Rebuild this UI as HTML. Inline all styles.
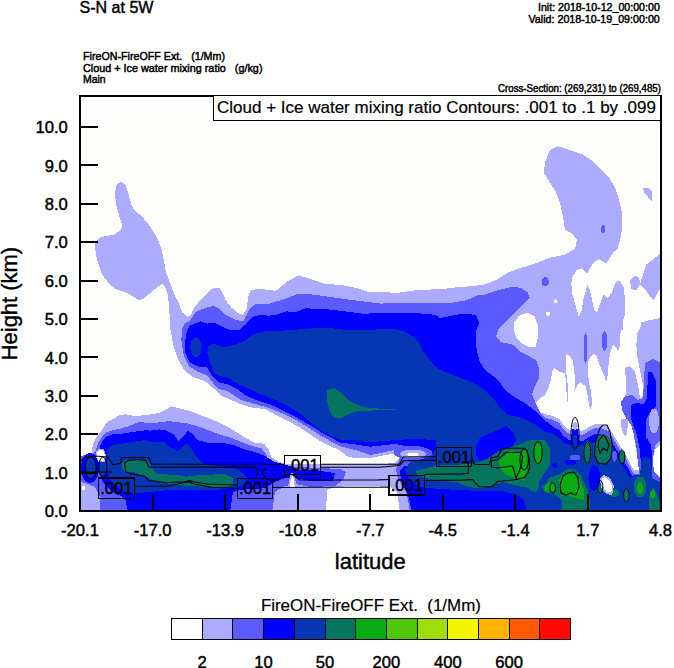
<!DOCTYPE html>
<html><head><meta charset="utf-8"><style>
html,body{margin:0;padding:0;background:#fff;width:674px;height:668px;overflow:hidden}
svg{display:block}
</style></head><body>
<svg width="674" height="668" viewBox="0 0 674 668">
<style>
polygon,rect{shape-rendering:crispEdges} ellipse:not([fill="none"]){shape-rendering:crispEdges}
text{font-family:"Liberation Sans",sans-serif;fill:#000}
.t16{font-size:16.6px;stroke:#000;stroke-width:0.45px} .t17{font-size:17px;stroke:#000;stroke-width:0.2px} .t22{font-size:22px;stroke:#000;stroke-width:0.4px} .t10{font-size:11.8px;stroke:#000;stroke-width:0.5px} .t9{font-size:10.4px;stroke:#000;stroke-width:0.45px}
</style>
<rect x="80" y="96" width="581" height="415" fill="#fefefc"/><polygon points="80,456.3 86.8,456.3 92,453.6 92.7,444.5 96,438 101,431.5 105,425 107.5,421.8 114.2,418.5 119.3,415.1 126,414.3 134.4,415.9 142.8,415.4 151.1,414.3 159.5,412.8 166.6,409.2 171.4,406.4 178.5,408.1 188,410.4 197.5,414 207,417.6 218.8,422.3 228.3,427 237.8,433 245,437.7 254.4,442.5 264,443.7 268.7,449.6 271,456.7 278.2,461.5 285.3,463.8 300,464.5 330,464 360,464.5 380,464 395,463 401,456 394.4,453.4 385.5,455.1 371.2,457.8 359,458.5 353.4,457.8 347.9,456.7 340,450.6 329,445.4 320.1,441 311.2,435.1 302.3,429.1 293.4,423.9 283,418.7 274.1,414.3 265.2,409.1 251.9,407.6 240,403.9 230.7,399.7 220.6,395.5 213.9,388.8 204.9,381 193.7,377.6 184.7,370.8 178,359.6 173.5,346 170.5,330 169.4,312.5 168,295 165,287 162.2,283.8 153.9,289.8 143.4,298.7 138.9,300.2 126.9,292.8 116.4,289.2 108.9,283.8 101.5,273.3 97,259.8 94.6,244.9 95.5,241.9 100,237.4 107.4,235.9 114.9,234.4 120.9,229.9 122.4,225.4 119.4,216.4 116.4,206 114.9,194 116.4,185 120.9,181.4 125.4,185 128.4,194 131.4,204.4 134.4,210.4 141.9,216.4 149.4,225.4 156.8,237.4 161.3,247.8 163.7,259.8 165.8,271.8 170.3,283.8 174.8,295.7 178,301.2 182.5,312.5 187,317 191,315 194,308 198,303 204.8,296 210,290 215.2,287.7 219.7,288.3 222.7,292.8 225.5,300 231.9,308 238,313 243,315 246.5,309 248.5,295.7 251.2,289.8 258.6,289.2 261.1,289 276,290.9 287.1,281.6 298.2,275.3 309.3,278.6 324.2,283.5 342.7,285.3 357.6,288.3 368.7,292 385.3,292.4 398.4,292.7 416.9,290.1 442.9,289 457.7,287.2 472.6,286.1 484,284.7 495.9,280.2 507.9,272.7 519.9,268.2 534.9,263.7 549.8,257.7 564.8,254.7 575.3,248.7 576.8,239.8 572.3,233.8 564.8,229.3 563.3,218.8 560.3,203.8 555.8,191.9 548.3,179.9 543.8,172.4 545.3,161.9 549.8,149.9 557.3,146.3 564.8,148.4 573.8,151.4 582.8,154.4 591.7,160.4 600.7,169.4 609.7,178.4 615.7,188.9 620.2,203.8 622.3,216 622.3,226.8 620.5,237.6 617.8,248.3 614.3,252 661,252 661,511 80,511" fill="#acacfe" /><polygon points="643,188 648,187.5 651.6,191 652,201.6 648,197 644,192" fill="#acacfe" /><polygon points="614.3,251 606.2,263.5 599.5,259.4 594.1,262.1 589.4,268.9 587.3,273.6 582,268.2 576.6,270.2 572.5,277 571.2,283.7 572.5,294.5 575.2,303.9 578.6,316 581.3,312 583.3,299.9 587.3,285 590,290.4 594.1,309.3 596.8,312.7 600.1,303.9 603.5,294.5 607.6,297.8 611.6,293.1 615.6,282.3 619.4,280.6 623.5,287 624.8,297 624.8,322 622,333 620,345 623,350 627,348 626,335 636,324 650,320 660,318 660,251" fill="#fefefc" /><polygon points="530,407.4 535,404 540,398 545,395.3 548.1,389 550.8,379.6 552.9,369.1 554.4,368 558.6,371.2 562.3,372.7 564.9,373.3 565.9,381.6 566.5,392.1 567.5,402 568.5,392 567,378 565.9,371.2 565.9,355.5 568,354 570.1,356.5 572.7,360.7 574.3,371.2 575.4,386.9 573.5,393 572.7,394.2 576.4,386.9 580.6,381.6 583.7,384.8 585.3,384.8 586.9,392.1 589,403.6 590,411 592.1,403.6 591.1,392.1 589,382.7 587.9,371.2 587.9,361.8 590,357.6 593.7,353.9 596.3,355.5 598.4,361.8 601.5,370.1 605,376.4 606,383.1 607.4,377.7 608.7,362.9 610.1,353.5 612.8,345.4 615.5,346.7 618.2,350.8 620.9,344 620.5,330 624,330 626.9,348.1 625.1,366.2 626.3,391.2 623.6,405 627.9,419.2 631.8,423.1 633.8,434.8 635.8,448.5 637.7,458.3 639.7,470 633.8,470 631.8,466.2 627.9,458.3 624,452.5 618.1,442.7 612.3,432.9 608.3,427 600.5,424.1 594.6,424.1 588.8,427 582.9,430.9 577,430 569.2,430 563.3,425 559.4,419.2 553.5,416.2 545.7,414.3 537.8,411.3" fill="#fefefc" /><polygon points="326,512 327,490 335,487 350,486 370,486 390,487 397,492 400,512" fill="#fefefc" /><polygon points="514.1,322.7 518.6,315.9 527.6,312.6 534.3,315.9 537.7,324.9 537.7,338.4 535.4,347.4 529.8,347.4 523.1,344 516.4,338.4 513.7,329.4" fill="#fefefc" /><ellipse cx="555.7" cy="301.3" rx="2" ry="2" fill="#fefefc"/><ellipse cx="547.8" cy="313.7" rx="2.2" ry="2.2" fill="#fefefc"/><polygon points="623.7,316 623,328.8 620.5,332.6 619.9,345.2 618.6,351.4 613.6,345.2 611.1,351.4 608.6,370.3 606.7,384.2 612,395 621,400 625,396 625,368 630,366 635,372 638,385 640,398 642.5,396 642.5,382.9 640,370.3 637.5,357.7 636.3,345.2 637.5,332.6 641.3,325.7 641,316" fill="#fefefc" /><polygon points="660,444 655,450 652.7,460 654,472 660,478" fill="#fefefc" /><polygon points="660,253.6 653.6,259 646.4,264.4 642.8,275.2 640.1,284.2 645.5,289.6 650,296.8 653.6,300.4 657.2,293.2 660,289.6" fill="#acacfe" /><polygon points="630.2,280 634,276 639,277 640.1,284 636,290.5 631,289" fill="#acacfe" /><polygon points="641.3,325.7 646.3,335.1 648.8,347 653.9,346.4 658.9,343.3 660,343 660,400 642.5,400 642.5,382.9 640,370.3 637.5,357.7 636.3,345.2 637.5,332.6" fill="#acacfe" /><polygon points="80,456 86,455 92,455 96,450 98.5,442 105,432.8 112.9,430.2 121,428.5 129.3,426 139.4,421.8 150,423.5 159.5,422.3 169,421.1 178.5,422.3 188,423.5 199.9,427 209.3,430.6 218.8,434.2 230.7,437.7 242.6,442.5 252.1,446 261.6,448.4 266.3,454.3 268.7,461.5 283,465.5 300,467 320,468 340,469 346,472 343,480 335,486 310,487 296,484 285,486 275,492 272,512 100,512 100,497 95,487 85,483 80,482" fill="#5a5aff" /><polygon points="182.5,328.2 185,323 189.2,321.4 195.8,312 204.9,308 213.9,305.7 218.4,308 225.1,314.7 234.1,319.2 243.1,321.4 249.8,308 256.6,303.5 268.5,303.9 287.1,298.3 298.2,293.5 313.1,294.6 331.6,297.2 344.9,299.1 362.9,301.3 380.8,303.6 398.8,302.9 416.8,302.9 434.7,302.5 453.5,302.5 467,300.2 478,295.1 484.9,294.6 495.9,290.7 511.9,286.7 520.8,287.9 527.6,292.4 530,298 523.1,304.7 514.1,313.7 505.1,322.7 498.4,329.4 496.1,336.1 500.6,341.8 514.1,345.1 520.8,351.9 529.8,356.4 536.6,360.8 538.8,367.6 538.8,378.8 534.3,387.8 532.1,394.5 535.4,402.4 540,412 545.7,418 553.5,420 559.4,423 563.3,429 569.2,434 577,434 582.9,434.9 588.8,431 594.6,428 600.5,428 608.3,431 612.3,436.9 618.1,446.7 624,456.5 627.9,462.3 631.8,470.2 633.8,474 638.8,474 638.8,469 637.5,458.9 636.3,446.3 633.7,433.7 631.2,425 626,418 622,410 621,402 625,396 632,395 638,400 643,398 644,380 645,362.8 652.6,359 657.6,361.5 660,362 660,440 655,446 652.7,460 654,472 660,478 660,512 410,512 406.8,493.4 398,479 396,470 399.7,458 394,450 385,452 371,455 353.5,449.5 340,446.2 330.5,441 321.6,436.5 312.7,430.6 303.8,424.7 294.9,419.5 284.5,414.3 275.6,410.6 265.2,406.9 251.9,403.2 240,399.5 227.4,391.1 218.4,388.8 213.9,384.3 207.2,375.3 198.2,372 189.2,366.4 183.6,355.1 181.3,339.4" fill="#5a5aff" /><ellipse cx="545.3" cy="281.7" rx="3.5" ry="4.5" fill="#5a5aff"/><ellipse cx="603.1" cy="229.3" rx="2" ry="4" fill="#5a5aff"/><ellipse cx="585.5" cy="348" rx="2" ry="15" fill="#5a5aff"/><ellipse cx="604.5" cy="341" rx="3" ry="10" fill="#5a5aff"/><polygon points="189.2,325.9 200.4,321.4 207.2,323.7 213.9,322.6 220.6,325.9 227.4,329.3 238.6,330.4 245.3,324.8 252.1,316.9 261.1,314.7 268.5,315.7 276.8,314.7 287.1,311.3 294.7,312.5 305.6,308.3 313.5,308.7 326.9,309.2 344.9,311.4 362.9,313.7 378.6,313.2 394.3,312.6 412.3,313.2 425.8,313.7 435.5,315 440,318.2 451.2,315.9 462.5,313.7 475.9,314.8 479.3,322.7 475.9,331.6 475.9,345.1 479.3,360.8 484.9,369.8 493.9,376.6 500.6,383.3 505.1,390 514.1,396.8 525.3,403.5 534.3,410.2 543.3,419 553.5,427 559.4,430 563.3,436 569.2,440 577,440 582.9,441 588.8,437 594.6,434 600.5,434 608.3,437 612.3,443 618.1,452 624,462 627.9,468 631.8,476 640,477 641,465 640,450 638,440 636,432 633,425 631,418 631,405 636,403 644,404 647,398 648,372 652,372 655.5,380 656,396 656,406 650,412 646,420 646,437 651,445 652,455 652,478 660,482 660,512 412,512 408,495 401,480 400,470 405,466 415,465 425,463 430,458 420,452 405,446 395,444 385,445 370,446.7 355.8,444.5 340,442.5 332,438 323.1,433.6 314.2,427.6 305.3,422.4 296.4,417.3 287.5,412.8 277.1,407.6 266.7,403.2 254.8,399.5 244.5,395 238.6,390 227.4,384.3 218.4,382.1 211.6,375.3 207.2,367.5 198.2,366.4 189.2,361.9 184.7,350.6 185.8,334.9" fill="#0000ff" /><ellipse cx="654" cy="421" rx="5" ry="12.5" fill="#acacfe"/><polygon points="99.1,450.3 100.8,443.6 105.8,436.9 112.6,434.4 122.6,433.6 132.7,431.9 146.1,430.2 150,430.6 159.5,429.4 166.6,430.6 173.7,434.2 178.5,441.3 183.2,436.5 188,430.6 192.7,434.2 197.5,440.1 207,442.5 221.2,442.5 233.1,444.9 245,449.6 255,452 265,456 275,462 290,466 300,470 320,471 335,473 333,481 310,481 296,478 285,478 275,482 265,488 240,490 233,492 230,512 128,512 125,498 112,492 103,482 98,470 96,458" fill="#0000ff" /><ellipse cx="90" cy="468" rx="9" ry="15" fill="#0000ff"/><polygon points="208.3,346.1 213.9,343.9 222.9,347.3 234.1,345 243.1,341.6 254.3,333.8 265.5,331.5 285.8,330.4 300,329.4 313.5,328.3 326.9,327.6 344.9,329.9 362.9,330.5 378.6,329.4 394.3,329 403.3,331.2 412.3,336.1 419,342.9 423.5,351.9 428,358.6 434.7,365.3 440,369.8 451.2,374.3 462.5,378.8 473.7,383.3 484.9,390 493.9,399 500.6,408 507.4,414.7 518.6,417 529.8,421.5 538.8,427.1 545,432 553,434 560,438 565,444 577,446 588,444 600,441 608,444 614,452 620,462 625,470 630,478 634,475 640,475 641,465 642,458 646,457 651,459 652,478 660,482 661,512 527,512 524,500 515,494 500,491 480,491 460,490 440,489 420,487 410,480 405,470 410,462 420,458 430,455 436,450 436,440 415,439 395,440 385,441 370,442.3 353.5,440.1 340,439.5 332,436.5 324.6,432.1 315.7,426.9 308.2,420.2 300.8,414.3 291.9,408.4 283,403.2 274.1,399.5 262.3,395 250,389 238.6,384.3 227.4,377.6 220.6,376.5 213.9,373.1 210.5,364.1 207.2,352.9" fill="#0537b4" /><ellipse cx="195.9" cy="347.3" rx="5.6" ry="10" fill="#0537b4"/><polygon points="107.5,448.7 112.6,445 120,444 131.6,442 145,440 152.8,442 164.4,442 170.1,447.8 177.9,451.6 183.6,445.9 187.5,443.9 193.3,451.6 197.1,457.4 202.9,463.2 215,466 230,467 240,470 247,478 243,486 230,489 210,490 190,490 170,490 150,492 130,494 118,488 110,480 106,465" fill="#0537b4" /><ellipse cx="90.7" cy="468" rx="5" ry="11" fill="#0537b4"/><ellipse cx="102.9" cy="467" rx="3.8" ry="10" fill="#0537b4"/><polygon points="506.3,425.9 498,430 488,434 480.2,437.7 476,446 475.5,454.3 480,462 485,466.2 495,460 505,452 512,447 515.8,440.1 513,432" fill="#0000ff" /><polygon points="327,390 333.7,388.2 340.4,392.3 347.2,399 353.9,403.1 360.6,405.8 367.4,407.6 385.3,409.1 397,409.6 397,410.3 383.1,410.2 367.4,410.7 356.1,411.4 347.2,414.7 340.4,418.1 333.7,417.4 329.2,410.2 326.5,399" fill="#057560" /><polygon points="121.8,463.8 125.1,460.4 134.4,459.6 142.8,459.6 147.8,461.2 151.1,466.3 156.9,473.5 168,474.6 176.9,474.6 185.8,476.8 194.7,475.7 203.6,474.6 212.5,474.6 225,474 233,478 233,486 217,487.9 203.6,486.8 185.8,485.7 172.5,484.6 156.9,481.3 145.8,476.8 134.4,472.1 127.7,472.1 123.5,470.5 121.8,467.1" fill="#057560" /><polygon points="415.8,470.9 436.5,465.7 457.3,464.7 474,463.6 486.4,459.5 498.9,451.2 511.3,447 520,444 530,440 545,440 550,448 549.5,465 545,472 535,488.5 519.6,486.5 503,482.3 490.6,486.5 478.1,488.5 467.7,486.5 457.3,482.3 436.5,480.2 426.2,478.2 417.9,476.1" fill="#057560" /><polygon points="541.7,486.7 545.7,484 549.7,477.4 559,474.7 567,469.3 575,469.3 580.4,474.7 584.4,482.7 588.4,492 589.8,500 589.8,512 561.7,512 561.7,500 555,494.7 544.4,492" fill="#057560" /><polygon points="515,460 529.7,460 529,475 526,486.7 518,486 515,480" fill="#057560" /><polygon points="525.7,478 530,474.7 536,478 539,486 537,492 531,491 527,486" fill="#057560" /><ellipse cx="532.6" cy="481.5" rx="6.5" ry="7.5" fill="#057560"/><ellipse cx="587.4" cy="452" rx="4.2" ry="11.6" fill="#057560"/><ellipse cx="603.2" cy="449" rx="9.5" ry="14.8" fill="#057560"/><ellipse cx="622.2" cy="457.3" rx="3.2" ry="6.3" fill="#057560"/><ellipse cx="640.1" cy="487" rx="6.3" ry="10.5" fill="#057560"/><polygon points="649,512 649,497 652.7,487 657,494 660,503 660,512" fill="#057560" /><ellipse cx="614.8" cy="493.2" rx="4.2" ry="4.2" fill="#057560"/><ellipse cx="626.4" cy="495.3" rx="3.2" ry="6.3" fill="#057560"/><ellipse cx="600.1" cy="486.9" rx="3.1" ry="6.3" fill="#057560"/><polygon points="498.9,462 503,455 510,451.2 520,452 528,458 527,470 524,480.2 515,478 505,474 500,468" fill="#0aaa12" /><ellipse cx="537.9" cy="452.6" rx="4.2" ry="11" fill="#0aaa12"/><ellipse cx="524.2" cy="459.5" rx="4.2" ry="10.5" fill="#0aaa12"/><polygon points="559,480 563,474 570,473.4 577,475 581,482 584.4,492 584,500 575,498 568,495 563,493 559,488" fill="#0aaa12" /><polygon points="544.4,487 548,482.7 555,483 556,490 550,492 545,491" fill="#0aaa12" /><ellipse cx="555" cy="465.3" rx="2.6" ry="2.7" fill="#0000ff"/><ellipse cx="594.4" cy="478" rx="6" ry="12.7" fill="#0000ff"/><rect x="516.3" y="502.7" width="6.7" height="8.3" fill="#0000ff"/><ellipse cx="570.4" cy="462.5" rx="6" ry="2.8" fill="#0000ff"/><ellipse cx="640" cy="488" rx="3" ry="6" fill="#0aaa12"/><ellipse cx="652.7" cy="494.3" rx="2.5" ry="4" fill="#0aaa12"/><ellipse cx="413" cy="453" rx="19" ry="7" fill="#5a5aff"/><ellipse cx="413" cy="454" rx="13" ry="4.5" fill="#acacfe"/><ellipse cx="413" cy="454.5" rx="6" ry="1.8" fill="#fefefc"/><polygon points="95.5,452 98.5,449.2 104,449.5 106,456 104.5,462 98,461.5 95.5,456" fill="#acacfe" /><polygon points="96.5,452.5 99,450.2 103.5,450.5 105,456 103.5,461 98.5,460.5 96.5,456" fill="#fefefc" /><rect x="81.5" y="486" width="3.5" height="4" fill="#fefefc"/><ellipse cx="575" cy="437" rx="3.6" ry="11.5" fill="#0000ff"/><ellipse cx="575" cy="441" rx="2.5" ry="6" fill="#0537b4"/><ellipse cx="575" cy="426" rx="2.6" ry="4" fill="#acacfe"/><ellipse cx="575" cy="457.5" rx="5" ry="3" fill="#5a5aff"/><ellipse cx="614.5" cy="456" rx="2.5" ry="5.5" fill="#5a5aff"/><polygon points="620.5,419 628,419 627.5,428.3 626.2,436.5 623.4,433.8 620.7,425.5" fill="#acacfe" /><polygon points="287.5,489 290,476 292,472 294.5,476 297,489" fill="#acacfe" /><polygon points="289.5,488 291,478 292.2,475 293.5,478 295,488" fill="#fefefc" /><polygon points="600,478 604,475 610,478 614,486 612,495 606,494 601,487" fill="#acacfe" /><polygon points="601.5,479 604.5,477 609,480 612.5,486.5 611,492.5 606.5,491.5 602.5,486" fill="#fefefc" /><polyline points="112,465 121,463 121,457.5 149,457.5 151.5,464 284.3,464.3" fill="none" stroke="#000" stroke-width="1.1" stroke-linejoin="round"/><polyline points="320.7,464.3 399.6,464.3 403,457 436.4,456.8" fill="none" stroke="#000" stroke-width="1.1" stroke-linejoin="round"/><polyline points="471.7,456.6 472.7,460.8 474.8,464.5 489.3,464.5 491.4,457.7 497.6,456.6 501.8,449.3 505.9,448.3 524.6,448.3 526.7,450.4 528.8,456.6 529.8,467 527.8,473.2 524.6,477.4 516.3,479.5 508,480.5 497.6,481.5 494.5,484.7 491.4,486.7 478.9,486.7 474.8,482.6 472.7,479.5 462.3,480.1 424.5,480.5" fill="none" stroke="#000" stroke-width="1.1" stroke-linejoin="round"/><polyline points="389,487.3 315,487.3 272.5,487.5" fill="none" stroke="#000" stroke-width="1.1" stroke-linejoin="round"/><polyline points="237.6,488.3 211.3,487.3 193.5,484 189,481.7 166.8,486.2 134.4,486.2" fill="none" stroke="#000" stroke-width="1.1" stroke-linejoin="round"/><polyline points="125.6,471.7 124.5,462.8 127.8,460.6 137.8,459.5 145.6,460.6 149,467.3 153.4,467.3 255,467 258,472 256,478.4" fill="none" stroke="#000" stroke-width="1.1" stroke-linejoin="round"/><polyline points="125.6,471.7 131.2,473.9 144.5,476.2 149,480.6 166.8,482.8 184.6,481.7 189,480.6 193.5,481.7 206.8,484 237.6,485" fill="none" stroke="#000" stroke-width="1.1" stroke-linejoin="round"/><polyline points="266,468 262,472 266,479 272.5,481 280,478 288,474.3" fill="none" stroke="#000" stroke-width="1.1" stroke-linejoin="round"/><polyline points="292,474.3 296,477 300,480 378.8,479.9 389,479.5" fill="none" stroke="#000" stroke-width="1.1" stroke-linejoin="round"/><polyline points="320.7,467.3 380,467.3 399.6,465.5 404,460.6 436.4,460.4" fill="none" stroke="#000" stroke-width="1.1" stroke-linejoin="round"/><polyline points="471.7,460.4 468.5,462 468.5,473.2 462.3,473.9 431.2,474.3 424.5,474.3" fill="none" stroke="#000" stroke-width="1.1" stroke-linejoin="round"/><polyline points="491.4,460.8 497.6,459.7 503.9,454.5 505.9,452.5 520.5,452.5 522.6,456.6 521.5,464.9 518.4,473.2 516,478 514,470 512.2,466 503.9,467 497.6,468 491.4,467 491.4,460.8" fill="none" stroke="#000" stroke-width="1.1" stroke-linejoin="round"/><ellipse cx="90.7" cy="468" rx="5.5" ry="11" fill="none" stroke="#000" stroke-width="1"/><ellipse cx="102.9" cy="467" rx="4" ry="10" fill="none" stroke="#000" stroke-width="1"/><polyline points="80,472 112,472" fill="none" stroke="#000" stroke-width="1.1" stroke-linejoin="round"/><polyline points="80,462 84,458 95,456 108,457 113,465" fill="none" stroke="#000" stroke-width="1.1" stroke-linejoin="round"/><ellipse cx="575" cy="433.4" rx="4" ry="16" fill="none" stroke="#000" stroke-width="1"/><ellipse cx="587.3" cy="452.5" rx="3.4" ry="10.8" fill="none" stroke="#000" stroke-width="1"/><ellipse cx="622" cy="457" rx="3" ry="7" fill="none" stroke="#000" stroke-width="1"/><ellipse cx="538" cy="452.6" rx="4.2" ry="11" fill="none" stroke="#000" stroke-width="1"/><ellipse cx="524.2" cy="459.5" rx="4.2" ry="10.5" fill="none" stroke="#000" stroke-width="1"/><ellipse cx="552.6" cy="488" rx="2.8" ry="5.3" fill="none" stroke="#000" stroke-width="1"/><ellipse cx="600.1" cy="486.9" rx="2.8" ry="6.3" fill="none" stroke="#000" stroke-width="1"/><ellipse cx="626.4" cy="495.3" rx="2.8" ry="6.3" fill="none" stroke="#000" stroke-width="1"/><polyline points="596,440 600,428 603,425 607,425 610,432 612.3,445 611,458 606,464.2 598,463 594.6,455 595,447 596,440" fill="none" stroke="#000" stroke-width="1.1" stroke-linejoin="round"/><polyline points="598,447 599,440 603,434.8 606,438 609,445 607,451 603,448 600,453.4 598,447" fill="none" stroke="#000" stroke-width="1.1" stroke-linejoin="round"/><polyline points="560,485 563,476 568,473 574,472 578,478 579,487 576,495 570,493 566,495 561,493 560,485" fill="none" stroke="#000" stroke-width="1.1" stroke-linejoin="round"/><rect x="98.3" y="478" width="36.1" height="20.2" fill="none" stroke="#000" stroke-width="1.1"/><text x="116.3" y="493.7" text-anchor="middle" class="t16">.001</text><rect x="237.6" y="478.4" width="34.9" height="20.3" fill="none" stroke="#000" stroke-width="1.1"/><text x="255.1" y="494.1" text-anchor="middle" class="t16">.001</text><rect x="284.3" y="455.3" width="36.4" height="19.0" fill="none" stroke="#000" stroke-width="1.1"/><text x="302.5" y="471.0" text-anchor="middle" class="t16">.001</text><rect x="389" y="475.3" width="35.5" height="19.7" fill="none" stroke="#000" stroke-width="1.1"/><text x="406.8" y="491.0" text-anchor="middle" class="t16">.001</text><rect x="436.4" y="447.3" width="35.3" height="19.3" fill="none" stroke="#000" stroke-width="1.1"/><text x="454.0" y="463.0" text-anchor="middle" class="t16">.001</text>
<rect x="79" y="95" width="2" height="417" fill="#000"/><rect x="660" y="95" width="2" height="417" fill="#000"/><rect x="79" y="95" width="583" height="2" fill="#000"/><rect x="79" y="510" width="583" height="2" fill="#000"/><rect x="80" y="471.6" width="18" height="2" fill="#000"/><rect x="80" y="433.2" width="18" height="2" fill="#000"/><rect x="80" y="394.8" width="18" height="2" fill="#000"/><rect x="80" y="356.4" width="18" height="2" fill="#000"/><rect x="80" y="318.0" width="18" height="2" fill="#000"/><rect x="80" y="279.6" width="18" height="2" fill="#000"/><rect x="80" y="241.2" width="18" height="2" fill="#000"/><rect x="80" y="202.8" width="18" height="2" fill="#000"/><rect x="80" y="164.4" width="18" height="2" fill="#000"/><rect x="80" y="126.0" width="18" height="2" fill="#000"/><rect x="151.6" y="494" width="2" height="17" fill="#000"/><rect x="224.1" y="494" width="2" height="17" fill="#000"/><rect x="296.7" y="494" width="2" height="17" fill="#000"/><rect x="369.2" y="494" width="2" height="17" fill="#000"/><rect x="441.8" y="494" width="2" height="17" fill="#000"/><rect x="514.4" y="494" width="2" height="17" fill="#000"/><rect x="586.9" y="494" width="2" height="17" fill="#000"/>
<text x="67.8" y="517.2" text-anchor="end" class="t16">0.0</text><text x="67.8" y="478.8" text-anchor="end" class="t16">1.0</text><text x="67.8" y="440.4" text-anchor="end" class="t16">2.0</text><text x="67.8" y="402.0" text-anchor="end" class="t16">3.0</text><text x="67.8" y="363.6" text-anchor="end" class="t16">4.0</text><text x="67.8" y="325.2" text-anchor="end" class="t16">5.0</text><text x="67.8" y="286.8" text-anchor="end" class="t16">6.0</text><text x="67.8" y="248.4" text-anchor="end" class="t16">7.0</text><text x="67.8" y="210.0" text-anchor="end" class="t16">8.0</text><text x="67.8" y="171.6" text-anchor="end" class="t16">9.0</text><text x="67.8" y="133.2" text-anchor="end" class="t16">10.0</text><text x="80.0" y="535.8" text-anchor="middle" class="t16">-20.1</text><text x="152.6" y="535.8" text-anchor="middle" class="t16">-17.0</text><text x="225.1" y="535.8" text-anchor="middle" class="t16">-13.9</text><text x="297.7" y="535.8" text-anchor="middle" class="t16">-10.8</text><text x="370.2" y="535.8" text-anchor="middle" class="t16">-7.7</text><text x="442.8" y="535.8" text-anchor="middle" class="t16">-4.5</text><text x="515.4" y="535.8" text-anchor="middle" class="t16">-1.4</text><text x="587.9" y="535.8" text-anchor="middle" class="t16">1.7</text><text x="660.5" y="535.8" text-anchor="middle" class="t16">4.8</text>
<text x="79.5" y="12.8" class="t16" textLength="74" lengthAdjust="spacingAndGlyphs">S-N at 5W</text><text x="538" y="10.8" class="t10" textLength="121.8" lengthAdjust="spacingAndGlyphs">Init: 2018-10-12_00:00:00</text><text x="528.5" y="23.2" class="t10" textLength="131.3" lengthAdjust="spacingAndGlyphs">Valid: 2018-10-19_09:00:00</text><text x="83" y="59.7" class="t10" xml:space="preserve" textLength="142" lengthAdjust="spacingAndGlyphs">FireON-FireOFF Ext.   (1/Mm)</text><text x="83" y="71.6" class="t10" xml:space="preserve" textLength="179.5" lengthAdjust="spacingAndGlyphs">Cloud + Ice water mixing ratio   (g/kg)</text><text x="83" y="83.3" class="t10" textLength="22.7" lengthAdjust="spacingAndGlyphs">Main</text><text x="498" y="91.6" class="t9" textLength="163" lengthAdjust="spacingAndGlyphs">Cross-Section: (269,231) to (269,485)</text><rect x="213.5" y="95.5" width="447" height="25" fill="#fff" stroke="#000" stroke-width="1"/><text x="217" y="113" class="t17">Cloud + Ice water mixing ratio Contours: .001 to .1 by .099</text><text transform="translate(17.3,303.6) rotate(-90)" text-anchor="middle" class="t22" textLength="113.4" lengthAdjust="spacingAndGlyphs">Height (km)</text><text x="370.3" y="569.2" text-anchor="middle" class="t22">latitude</text><text x="260.9" y="611.4" class="t17" xml:space="preserve" textLength="220" lengthAdjust="spacingAndGlyphs">FireON-FireOFF Ext.  (1/Mm)</text>
<rect x="171.50" y="618.5" width="30.70" height="21" fill="#fefefc" stroke="#000" stroke-width="1"/><rect x="202.20" y="618.5" width="30.70" height="21" fill="#acacfe" stroke="#000" stroke-width="1"/><rect x="232.90" y="618.5" width="30.70" height="21" fill="#5a5aff" stroke="#000" stroke-width="1"/><rect x="263.60" y="618.5" width="30.70" height="21" fill="#0000ff" stroke="#000" stroke-width="1"/><rect x="294.30" y="618.5" width="30.70" height="21" fill="#0537b4" stroke="#000" stroke-width="1"/><rect x="325.00" y="618.5" width="30.70" height="21" fill="#057560" stroke="#000" stroke-width="1"/><rect x="355.70" y="618.5" width="30.70" height="21" fill="#0aaa12" stroke="#000" stroke-width="1"/><rect x="386.40" y="618.5" width="30.70" height="21" fill="#50c80a" stroke="#000" stroke-width="1"/><rect x="417.10" y="618.5" width="30.70" height="21" fill="#a0dc0a" stroke="#000" stroke-width="1"/><rect x="447.80" y="618.5" width="30.70" height="21" fill="#f5f500" stroke="#000" stroke-width="1"/><rect x="478.50" y="618.5" width="30.70" height="21" fill="#ffb400" stroke="#000" stroke-width="1"/><rect x="509.20" y="618.5" width="30.70" height="21" fill="#ff5a00" stroke="#000" stroke-width="1"/><rect x="539.90" y="618.5" width="30.70" height="21" fill="#ff0a00" stroke="#000" stroke-width="1"/><text x="202.2" y="667.9" text-anchor="middle" class="t16">2</text><text x="263.6" y="667.9" text-anchor="middle" class="t16">10</text><text x="325.0" y="667.9" text-anchor="middle" class="t16">50</text><text x="386.4" y="667.9" text-anchor="middle" class="t16">200</text><text x="447.8" y="667.9" text-anchor="middle" class="t16">400</text><text x="509.2" y="667.9" text-anchor="middle" class="t16">600</text>
</svg>
</body></html>
